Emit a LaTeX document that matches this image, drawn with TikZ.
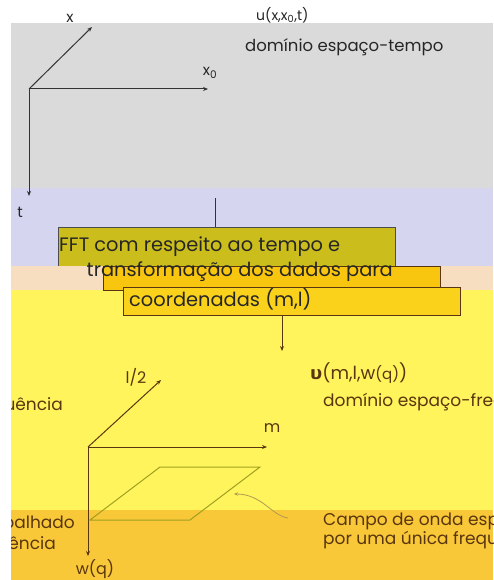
\documentclass[tikz,border=0pt]{standalone}
\usepackage{fontspec}
\setmainfont{Poppins}
\newfontfamily\dejavu{DejaVu Sans}
\usetikzlibrary{arrows.meta}
\definecolor{bggray}{HTML}{DADADA}
\definecolor{lav}{HTML}{D5D5F0}
\definecolor{peach}{HTML}{F8DEC0}
\definecolor{yel}{HTML}{FFF45C}
\definecolor{ora}{HTML}{F8C838}
\definecolor{olive}{HTML}{CBBE1C}
\definecolor{boxb}{HTML}{F9C60F}
\definecolor{boxc}{HTML}{FAD21C}
\definecolor{brn}{HTML}{5A3610}
\definecolor{para}{HTML}{A0A020}
\definecolor{curv}{HTML}{B49A50}
\tikzset{
  axtop/.style={draw=black!80, line width=1pt, -{Stealth[length=5pt,width=4pt]}},
  axbot/.style={draw=brn, line width=1pt, -{Stealth[length=5pt,width=4pt]}},
  lbltop/.style={text=black!85, inner sep=0pt, font=\fontsize{15}{17}\selectfont},
  lblbot/.style={text=brn, inner sep=0pt, font=\fontsize{16}{18}\selectfont},
  smalltop/.style={inner sep=0pt, font=\fontsize{16.5}{19}\selectfont},
  smallbot/.style={inner sep=0pt, text=brn, font=\fontsize{17}{20}\selectfont},
  boxtext/.style={text=black!85, inner sep=0pt, font=\fontsize{19.4}{22}\selectfont, anchor=west},
}
\begin{document}
\begin{tikzpicture}[x=1pt,y=-1pt]
\useasboundingbox (0,0) rectangle (493,580);
\fill[white] (0,0) rectangle (493,580);
\begin{scope}
\clip (11,0) rectangle (493,580);
% bands
\fill[bggray] (11,23) rectangle (493,188);
\fill[lav] (11,188) rectangle (493,266);
\fill[yel] (11,290) rectangle (493,510);
\fill[ora] (11,510) rectangle (493,580);
% FFT box
\node[draw=black!70, fill=olive, line width=1pt, minimum width=337pt, minimum height=40pt, anchor=north west, inner sep=0pt] (fft) at (58,227) {};
\fill[peach] (11,266) rectangle (493,290);
\node[draw=brn, fill=boxb, line width=1pt, minimum width=337pt, minimum height=24pt, anchor=north west, inner sep=0pt] (box2) at (103,266) {};
\node[draw=brn, fill=boxc, line width=1pt, minimum width=337pt, minimum height=28pt, anchor=north west, inner sep=0pt] (box3) at (123,287) {};
\node[boxtext] (t1) at (59,247) {FFT com respeito ao tempo e};
\node[boxtext, anchor=east] (t2) at (393,272) {transformação dos dados para};
\node[boxtext] (t3) at (129,299) {coordenadas (m,l)};
% connectors
\coordinate (ctop) at (215,198);
\draw[black!80, line width=1pt] (ctop) -- (ctop |- fft.north);
\coordinate (cdown) at (282,351);
\draw[brn, line width=1pt, -{Stealth[length=5pt,width=4pt]}] (box3.south -| cdown) -- (cdown);
% top axes
\coordinate (o1) at (29,89);
\coordinate (xe) at (92,27);
\coordinate (x0e) at (208,89);
\coordinate (te) at (29,196);
\draw[axtop] (o1) -- (xe);
\draw[axtop] (o1) -- (x0e);
\draw[axtop] (o1) -- (te);
\node[lbltop] (lx) at (70,18) {x};
\node[lbltop] (lx0) at (210,73) {x\textsubscript{0}};
\node[lbltop] (lt) at (20,212) {t};
\node[lbltop, anchor=west, font=\fontsize{14}{16}\selectfont] (u) at (256,15) {u(x,x\textsubscript{0},t)};
\node[smalltop, text=black!85, anchor=west] (d1) at (245,47) {domínio espaço-tempo};
% bottom axes
\coordinate (o2) at (88,447);
\coordinate (le) at (161,380);
\coordinate (me) at (267,447);
\coordinate (we) at (88,556);
\draw[axbot] (o2) -- (le);
\draw[axbot] (o2) -- (me);
\draw[axbot] (o2) -- (we);
\node[lblbot] (ll) at (136,377) {l/2};
\node[lblbot] (lm) at (272,428) {m};
\node[lblbot] (lw) at (95,569) {w(q)};
% plane
\coordinate (p1) at (90,520);
\coordinate (p2) at (190,520);
\coordinate (p3) at (260,467);
\coordinate (p4) at (160,467);
\draw[para, line width=1pt] (p1) -- (p2) -- (p3) -- (p4) -- cycle;
% curved arrow
\coordinate (cs) at (288,518);
\coordinate (ce) at (234,494);
\draw[curv, line width=0.8pt, -{Stealth[length=4pt,width=3.5pt]}] (cs) .. controls (272,516) and (262,494) .. (ce);
% right texts
\node[lblbot, anchor=west, font=\fontsize{18}{20}\selectfont] (v) at (310,373) {{\dejavu\bfseries υ}(m,l,w{\fontsize{15}{17}\selectfont(q)})};
\node[smallbot, anchor=west] (d2) at (323,402) {domínio espaço-frequência};
\node[smallbot, anchor=west] (c1) at (323,521) {Campo de onda espalhado};
\node[smallbot, anchor=west] (c2) at (323,540) {por uma única frequência};
% left clipped texts
\node[smallbot, anchor=east] (lf) at (63,406) {domínio espaço-frequência};
\node[smallbot, anchor=east] (le1) at (75,524) {Campo de onda espalhado};
\node[smallbot, anchor=east] (le2) at (56,545) {por uma única frequência};
\end{scope}
\end{tikzpicture}
\end{document}
